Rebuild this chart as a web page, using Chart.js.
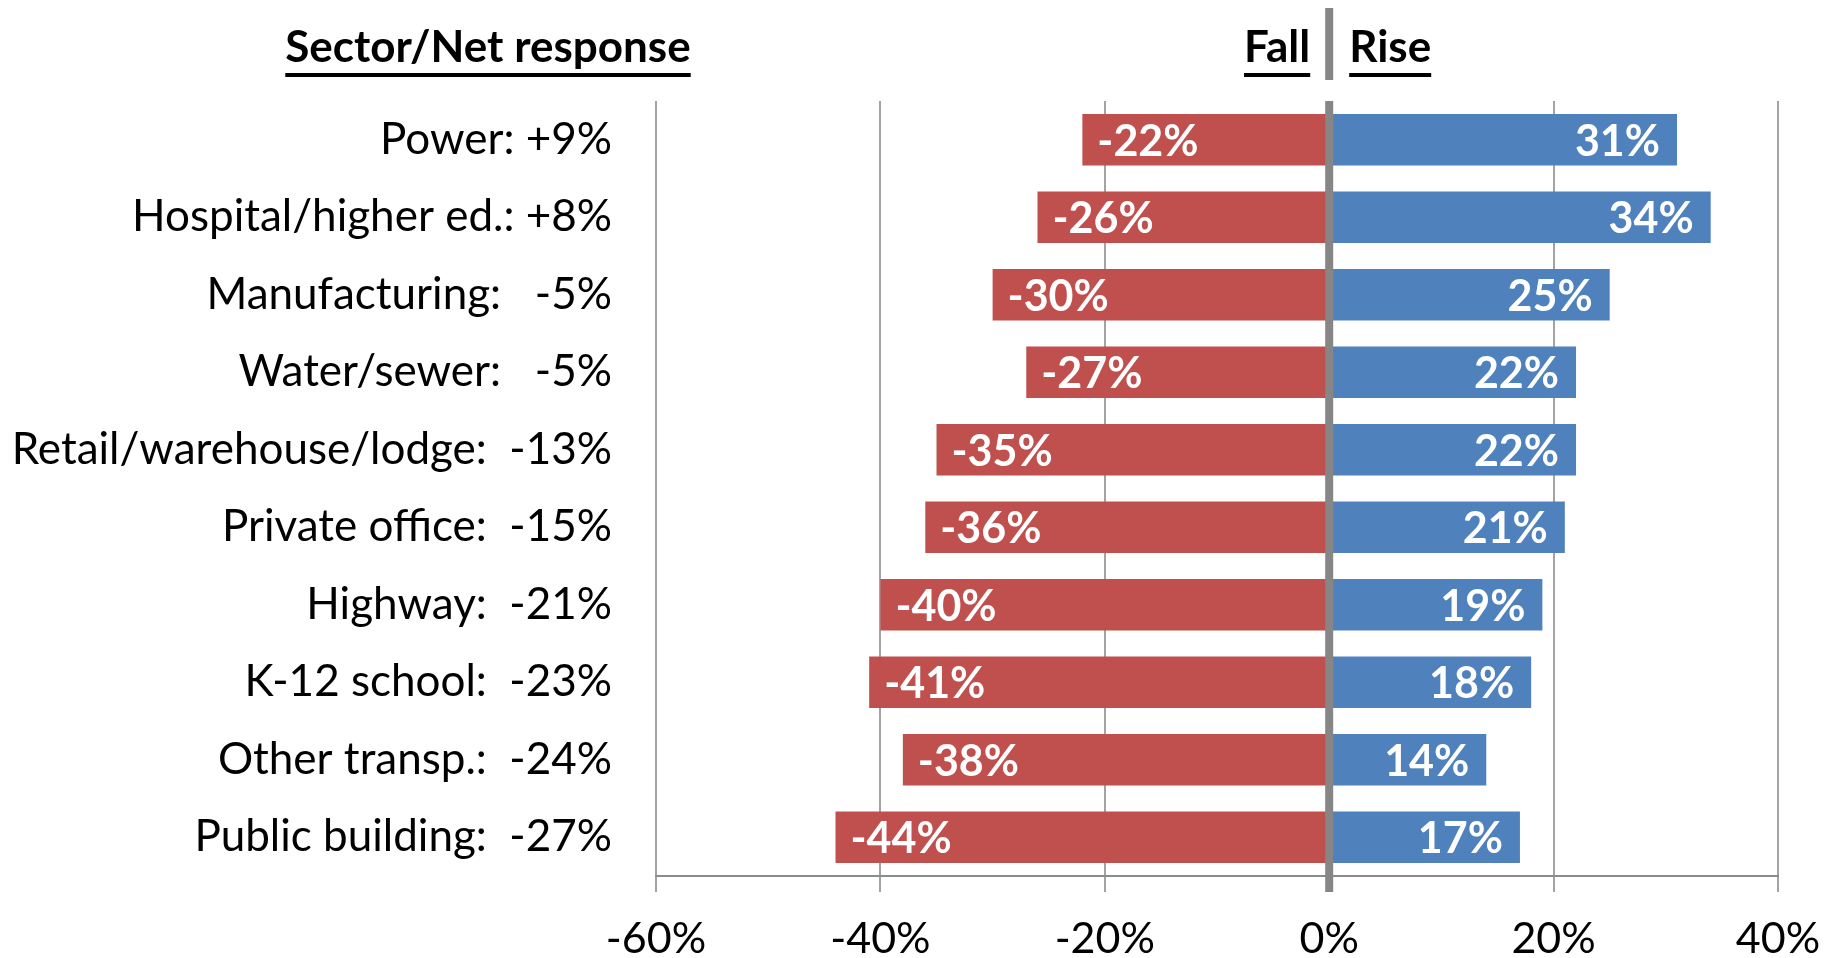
<!DOCTYPE html>
<html>
<head>
<meta charset="utf-8">
<script src="https://cdn.jsdelivr.net/npm/chart.js@4/dist/chart.umd.min.js"></script>
<style>
  html, body { margin: 0; padding: 0; background: #ffffff; overflow: hidden; }
  canvas { display: block; }
</style>
</head>
<body>
<canvas id="chart" width="1839" height="958"></canvas>
<script>
// Survey shares by sector: share expecting a fall (negative) and a rise (positive)
const sectors = ['Power', 'Hospital/higher ed.', 'Manufacturing', 'Water/sewer',
  'Retail/warehouse/lodge', 'Private office', 'Highway', 'K-12 school',
  'Other transp.', 'Public building'];
const fallShares = [-22, -26, -30, -27, -35, -36, -40, -41, -38, -44];
const riseShares = [31, 34, 25, 22, 22, 21, 19, 18, 14, 17];
const axisMin = -60;
const axisMax = 40;
const axisStep = 20;

// Net response = rise share + fall share, shown after each sector name
const netResponse = sectors.map((_, i) => riseShares[i] + fallShares[i]);
const categoryLabels = sectors.map((name, i) => {
  const n = netResponse[i];
  if (n >= 0) return name + ': +' + n + '%';
  return name + ':' + (Math.abs(n) < 10 ? '   ' : '  ') + n + '%';
});

const FONT = 'Lato, "Open Sans", sans-serif';
const RED = '#C0504D';
const BLUE = '#4F81BD';
const ZERO_GREY = '#868686';

const overlayPlugin = {
  id: 'overlay',
  afterDatasetsDraw(chart) {
    const ctx = chart.ctx;
    const xs = chart.scales.x;
    const area = chart.chartArea;
    const x0 = xs.getPixelForValue(0);

    // heavy zero divider through the plot and its tick
    ctx.save();
    ctx.fillStyle = ZERO_GREY;
    ctx.fillRect(x0 - 4, area.top, 8, area.bottom - area.top + 16);
    ctx.restore();

    // value labels inside the bars
    ctx.save();
    ctx.font = 'bold 43px ' + FONT;
    ctx.fillStyle = '#ffffff';
    ctx.textBaseline = 'middle';
    chart.data.datasets.forEach((ds, di) => {
      const meta = chart.getDatasetMeta(di);
      meta.data.forEach((bar, i) => {
        const v = ds.data[i];
        const text = v + '%';
        if (v < 0) {
          ctx.textAlign = 'left';
          ctx.fillText(text, bar.x + 15, bar.y + 2);
        } else {
          ctx.textAlign = 'right';
          ctx.fillText(text, bar.x - 17, bar.y + 2);
        }
      });
    });
    ctx.restore();
  },
  afterDraw(chart) {
    const ctx = chart.ctx;
    const x0 = chart.scales.x.getPixelForValue(0);
    const baseline = 62;

    ctx.save();
    ctx.font = 'bold 44px ' + FONT;
    ctx.fillStyle = '#000000';
    ctx.textBaseline = 'alphabetic';

    const underline = (left, width) => {
      ctx.fillRect(left, baseline + 11, width, 4);
    };

    // column heading on the left
    ctx.textAlign = 'center';
    const head = 'Sector/Net response';
    const hw = ctx.measureText(head).width;
    ctx.fillText(head, 488, baseline);
    underline(488 - hw / 2, hw);

    // Fall / Rise headings either side of the divider
    ctx.textAlign = 'right';
    const fw = ctx.measureText('Fall').width;
    ctx.fillText('Fall', x0 - 19, baseline);
    underline(x0 - 19 - fw, fw);

    ctx.textAlign = 'left';
    const rw = ctx.measureText('Rise').width;
    ctx.fillText('Rise', x0 + 20, baseline);
    underline(x0 + 20, rw);

    ctx.fillStyle = ZERO_GREY;
    ctx.fillRect(x0 - 4, 8, 8, 72);
    ctx.restore();
  }
};

new Chart(document.getElementById('chart'), {
  type: 'bar',
  data: {
    labels: categoryLabels,
    datasets: [
      { label: 'Fall', data: fallShares, backgroundColor: RED, borderWidth: 0,
        barPercentage: 0.667, categoryPercentage: 1.0 },
      { label: 'Rise', data: riseShares, backgroundColor: BLUE, borderWidth: 0,
        barPercentage: 0.667, categoryPercentage: 1.0 }
    ]
  },
  options: {
    indexAxis: 'y',
    responsive: false,
    animation: false,
    devicePixelRatio: 1,
    layout: { padding: { top: 101, right: 61, bottom: 0, left: 0 } },
    plugins: {
      legend: { display: false },
      title: { display: false },
      tooltip: { enabled: false }
    },
    scales: {
      x: {
        stacked: true,
        min: axisMin,
        max: axisMax,
        ticks: {
          stepSize: axisStep,
          padding: 21,
          maxRotation: 0,
          minRotation: 0,
          color: '#000000',
          font: { family: FONT, size: 43 },
          callback: (v) => v + '%'
        },
        grid: {
          color: '#a3a3a3',
          lineWidth: 2,
          tickLength: 16,
          drawTicks: true
        },
        border: { display: true, color: '#8c8c8c', width: 2 },
        afterFit: (scale) => {
          scale.height = 82;
          scale.paddingLeft = 0;
          scale.paddingRight = 0;
        }
      },
      y: {
        stacked: true,
        ticks: {
          padding: 44,
          color: '#000000',
          font: { family: FONT, size: 44 }
        },
        grid: { display: false, drawTicks: false },
        border: { display: false },
        afterFit: (scale) => {
          scale.width = 656;
          scale.paddingTop = 0;
          scale.paddingBottom = 0;
        }
      }
    }
  },
  plugins: [overlayPlugin]
});
</script>
</body>
</html>
